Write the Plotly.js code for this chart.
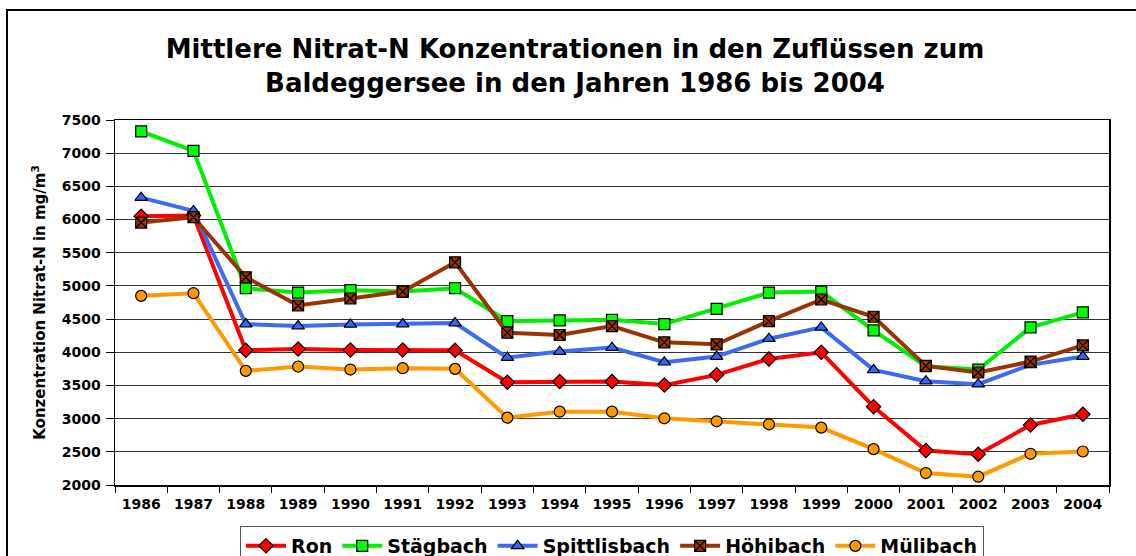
<!DOCTYPE html>
<html>
<head>
<meta charset="utf-8">
<script src="https://cdn.plot.ly/plotly-3.0.1.min.js"></script>
<style>
html,body{margin:0;padding:0;background:#fff;}
#chart{width:1136px;height:556px;}
</style>
</head>
<body>
<div id="chart"></div>
<script>
var years = ["1986","1987","1988","1989","1990","1991","1992","1993","1994","1995","1996","1997","1998","1999","2000","2001","2002","2003","2004"];
var ron = [6050,6060,4030,4050,4035,4035,4030,3550,3560,3560,3505,3660,3900,4000,3180,2520,2465,2905,3065];
var staegbach = [7330,7035,4965,4900,4935,4915,4965,4470,4480,4490,4425,4655,4900,4915,4330,3790,3740,4375,4600];
var spittlisbach = [6330,6130,4425,4395,4420,4425,4440,3920,4010,4070,3850,3935,4205,4375,3735,3565,3520,3810,3935];
var hoehibach = [5955,6035,5130,4705,4810,4915,5355,4295,4260,4395,4150,4120,4470,4795,4535,3795,3695,3860,4105];
var muelibach = [4850,4890,3720,3785,3740,3760,3750,3015,3105,3105,3005,2960,2915,2865,2540,2180,2125,2470,2505];
var seriesNames = ["Ron","Stägbach","Spittlisbach","Höhibach","Mülibach"];

var FONT = "DejaVu Sans, Verdana, sans-serif";

function tr(name, y, color, symbol, mcolor, mline) {
  return {
    type: "scatter", mode: "lines+markers", name: name, x: years, y: y,
    line: {color: color, width: 4},
    marker: {symbol: symbol, size: 11, color: mcolor, line: {color: mline || "#000", width: 1.2}}
  };
}

var data = [
  tr(seriesNames[0], ron, "#FF0000", "diamond", "#FF0000"),
  tr(seriesNames[1], staegbach, "#00EE00", "square", "#00FF00"),
  tr(seriesNames[2], spittlisbach, "#3D6BF0", "triangle-up", "#3366FF"),
  tr(seriesNames[3], hoehibach, "#993300", "square-x", "#993300"),
  tr(seriesNames[4], muelibach, "#FF9900", "circle", "#FF9900")
];

var W = 1136, H = 556;
var pl = 115, pr = 1109, pt = 120, pb = 485;
function px2x(x){ return (x - pl) / (pr - pl); }
function px2y(y){ return (pb - y) / (pb - pt); }

var layout = {
  width: W, height: H,
  margin: {l: pl, r: W - pr, t: pt, b: H - pb},
  paper_bgcolor: "#fff", plot_bgcolor: "#fff",
  font: {family: FONT, color: "#000"},
  showlegend: true,
  title: {
    text: "Mittlere Nitrat-N Konzentrationen in den Zuflüssen zum<br>Baldeggersee in den Jahren 1986 bis 2004",
    font: {family: FONT, size: 26, weight: "bold", color: "#000"},
    xref: "container", x: 575/W, xanchor: "center",
    yref: "container", y: 1 - 58/H, yanchor: "middle"
  },
  xaxis: {
    type: "category", range: [-0.5, 18.5],
    tickson: "boundaries", ticks: "outside", ticklen: 6, tickcolor: "#000",
    ticklabelstandoff: 6,
    showline: true, linecolor: "#000", linewidth: 1.5, mirror: true,
    showgrid: false, automargin: false,
    tickfont: {family: FONT, size: 14, weight: "bold", color: "#000"},
    fixedrange: true
  },
  yaxis: {
    range: [2000, 7500], dtick: 500, tick0: 2000,
    ticks: "outside", ticklen: 8, tickcolor: "#000",
    ticklabelstandoff: 2,
    showline: true, linecolor: "#000", linewidth: 1.5, mirror: true,
    showgrid: true, gridcolor: "#333", gridwidth: 1,
    zeroline: false,
    tickfont: {family: FONT, size: 14, weight: "bold", color: "#000"},
    title: {text: "Konzentration Nitrat-N in mg/m<sup>3</sup>", font: {family: FONT, size: 15, weight: "bold", color: "#000"}, standoff: 12},
    automargin: false,
    fixedrange: true
  },
  legend: {
    orientation: "h",
    xref: "container", yref: "container",
    x: 240/W, xanchor: "left",
    y: 1 - 526/H, yanchor: "top",
    font: {family: FONT, size: 19, weight: "bold", color: "#000"},
    bordercolor: "#555", borderwidth: 1, bgcolor: "#fff",
    itemwidth: 40, tracegroupgap: 0
  },
  shapes: [
    {type: "rect", xref: "paper", yref: "paper",
     x0: px2x(7), x1: px2x(1145), y0: px2y(600), y1: px2y(10),
     line: {color: "#000", width: 2}, fillcolor: "rgba(0,0,0,0)", layer: "below"}
  ]
};

Plotly.newPlot("chart", data, layout, {displayModeBar: false, staticPlot: true});
</script>
</body>
</html>
